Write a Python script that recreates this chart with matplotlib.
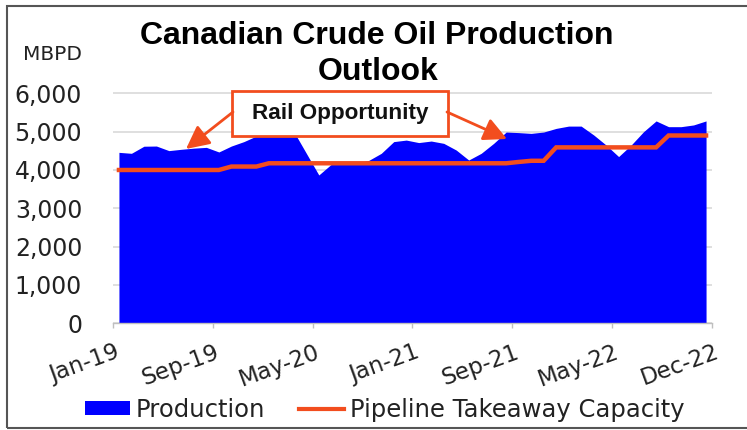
import matplotlib
matplotlib.use("Agg")
import matplotlib.pyplot as plt
import matplotlib.transforms as mtransforms
from matplotlib.patches import Rectangle, FancyArrowPatch, Patch
from matplotlib.lines import Line2D
import numpy as np

# Monthly crude production, Jan-2019 .. Dec-2022 (thousand barrels per day)
production = [
    4460, 4435, 4620, 4625, 4505, 4540, 4570, 4590, 4470, 4625, 4740, 4885,
    4950, 4960, 5000, 4435, 3870, 4150, 4170, 4180, 4250, 4435, 4740, 4780,
    4715, 4755, 4695, 4520, 4260, 4435, 4695, 4990, 4975, 4955, 4990, 5085,
    5145, 5145, 4915, 4650, 4350, 4650, 5000, 5280, 5130, 5130, 5175, 5280,
]
# Pipeline takeaway capacity over the same months
capacity = (
    [4000] * 9 + [4090] * 3 + [4175] * 20 + [4210, 4240, 4240]
    + [4590] * 9 + [4900] * 4
)
tick_labels = ["Jan-19", "Sep-19", "May-20", "Jan-21", "Sep-21", "May-22", "Dec-22"]
y_ticks = [0, 1000, 2000, 3000, 4000, 5000, 6000]

W, H = 747, 430
BLUE = "#0000FF"
RED = "#F24D1E"
FONT = "DejaVu Sans"
BOLD = "Liberation Sans"


def fx(x):
    return x / W


def fy(y):
    return 1 - y / H


fig = plt.figure(figsize=(W / 100, H / 100), dpi=100)
fig.patch.set_facecolor("white")

ax = fig.add_axes([fx(112.7), fy(323.3), (712.3 - 112.7) / W, (323.3 - 89.5) / H])
x = np.arange(len(production))
ax.fill_between(x, production, color=BLUE, lw=0, zorder=2)
ax.plot(x, capacity, color=RED, lw=3.2, zorder=3, solid_joinstyle="miter")

ax.set_xlim(-0.5, len(production) - 0.5)
ax.set_ylim(0, 6100)

ax.set_yticks(y_ticks)
ax.set_yticklabels([f"{v:,}" for v in y_ticks], fontfamily=FONT, fontsize=17, color="#222222")
ax.yaxis.grid(True, color="#D9D9D9", lw=1.2)
ax.set_axisbelow(True)
ax.tick_params(axis="y", length=0, pad=22)

xt = np.arange(0, len(production) + 1, 8) - 0.5
ax.set_xticks(xt)
ax.set_xticklabels(tick_labels, fontfamily=FONT, fontsize=16.5, color="#222222",
                   rotation=20, ha="right", va="center", rotation_mode="anchor")
ax.tick_params(axis="x", length=3.6, width=1, color="#BFBFBF", pad=16.5)
shift = mtransforms.ScaledTranslation(6 / 100, 0, fig.dpi_scale_trans)
for lbl in ax.get_xticklabels():
    lbl.set_transform(lbl.get_transform() + shift)

for side in ("left", "right", "top"):
    ax.spines[side].set_visible(False)
ax.spines["bottom"].set_color("#BFBFBF")
ax.spines["bottom"].set_linewidth(1)

# Titles and unit label
fig.text(fx(377), fy(36), "Canadian Crude Oil Production", ha="center", va="center",
         fontfamily=BOLD, fontweight="bold", fontsize=23, color="black")
fig.text(fx(378), fy(72), "Outlook", ha="center", va="center",
         fontfamily=BOLD, fontweight="bold", fontsize=23, color="black")
fig.text(fx(82), fy(55), "MBPD", ha="right", va="center",
         fontfamily=FONT, fontsize=14.5, color="#222222")

# Callout box with arrows
fig.add_artist(Rectangle((fx(232), fy(136)), 216 / W, 45 / H, transform=fig.transFigure,
                         facecolor="white", edgecolor=RED, lw=2.0, zorder=5))
fig.text(fx(340), fy(114), "Rail Opportunity", ha="center", va="center",
         fontfamily=BOLD, fontweight="bold", fontsize=16.2, color="#111111", zorder=6)
for (x0, y0), (x1, y1) in [((233, 112), (186, 149)), ((447, 112), (507, 139))]:
    fig.add_artist(FancyArrowPatch((fx(x0), fy(y0)), (fx(x1), fy(y1)),
                                   transform=fig.transFigure,
                                   arrowstyle="-|>,head_length=0.7,head_width=0.35",
                                   mutation_scale=20, color=RED, lw=2.0, zorder=5,
                                   shrinkA=0, shrinkB=0))

# Legend
handles = [Patch(facecolor=BLUE, edgecolor="none"), Line2D([], [], color=RED, lw=3)]
fig.legend(handles, ["Production", "Pipeline Takeaway Capacity"], loc="center",
           bbox_to_anchor=(fx(385), fy(410)), ncol=2, frameon=False,
           prop={"family": FONT, "size": 17.5}, handlelength=1.85, handleheight=0.5,
           handletextpad=0.25, columnspacing=1.4, labelcolor="#222222")

# Frame around the chart
fig.add_artist(Rectangle((fx(7), fy(428)), (760 - 7) / W, (428 - 6) / H,
                         transform=fig.transFigure, facecolor="none",
                         edgecolor="#555555", lw=1.5, zorder=0))

fig.savefig("out.png", dpi=100)
